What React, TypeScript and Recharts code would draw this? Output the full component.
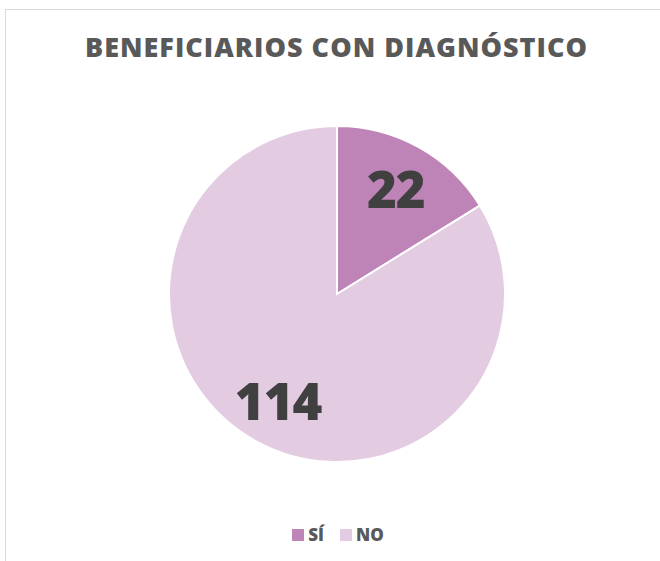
import React from 'react';
import { PieChart, Pie, Cell, Legend } from 'recharts';

const categories = ['SÍ', 'NO'];
const values = [22, 114];
const colors = ['#bf84b7', '#e3cce1'];

const data = categories.map((name, i) => ({ name, value: values[i] }));

const RADIAN = Math.PI / 180;

const renderLabel = (props: any) => {
  const { cx, cy, midAngle, outerRadius, value } = props;
  const r = outerRadius * 0.72;
  const x = cx + r * Math.cos(-midAngle * RADIAN);
  const y = cy + r * Math.sin(-midAngle * RADIAN);
  return (
    <text
      x={x}
      y={y}
      fill="#404040"
      textAnchor="middle"
      dominantBaseline="central"
      fontFamily="'Open Sans', sans-serif"
      fontWeight={800}
      fontSize={51}
      letterSpacing={-1}
    >
      {value}
    </text>
  );
};

const renderLegend = () => (
  <div style={{ display: 'flex', justifyContent: 'center', gap: 16, fontFamily: "'Open Sans', sans-serif", fontWeight: 800, fontSize: 17, color: '#595959' }}>
    {categories.map((c, i) => (
      <span key={c} style={{ display: 'flex', alignItems: 'center' }}>
        <span style={{ width: 12, height: 12, background: colors[i], marginRight: 4, display: 'inline-block' }} />
        {c}
      </span>
    ))}
  </div>
);

export default function App() {
  return (
    <div style={{ position: 'absolute', left: 0, top: 0, width: 660, height: 561, background: '#fff', overflow: 'hidden' }}>
      <div style={{ position: 'absolute', left: 5, top: 9, width: 700, height: 600, borderTop: '1px solid #d9d9d9', borderLeft: '1px solid #d9d9d9' }} />
      <div
        style={{
          position: 'absolute',
          left: 0,
          top: 28,
          width: 673,
          textAlign: 'center',
          fontFamily: "'Open Sans', sans-serif",
          fontWeight: 800,
          fontSize: 27,
          letterSpacing: 1,
          color: '#595959',
        }}
      >
        BENEFICIARIOS CON DIAGNÓSTICO
      </div>
      <div style={{ position: 'absolute', left: 0, top: 0 }}>
        <PieChart width={660} height={561} margin={{ top: 0, right: 0, bottom: 0, left: 0 }}>
          <Pie
            data={data}
            dataKey="value"
            nameKey="name"
            cx={337}
            cy={294}
            outerRadius={168}
            startAngle={90}
            endAngle={-270}
            stroke="#ffffff"
            strokeWidth={2}
            label={renderLabel}
            labelLine={false}
            isAnimationActive={false}
          >
            {data.map((d, i) => (
              <Cell key={d.name} fill={colors[i]} />
            ))}
          </Pie>
          <Legend
            content={renderLegend}
            verticalAlign="bottom"
            wrapperStyle={{ left: 0, width: 676, top: 523, bottom: 'auto' }}
          />
        </PieChart>
      </div>
    </div>
  );
}
